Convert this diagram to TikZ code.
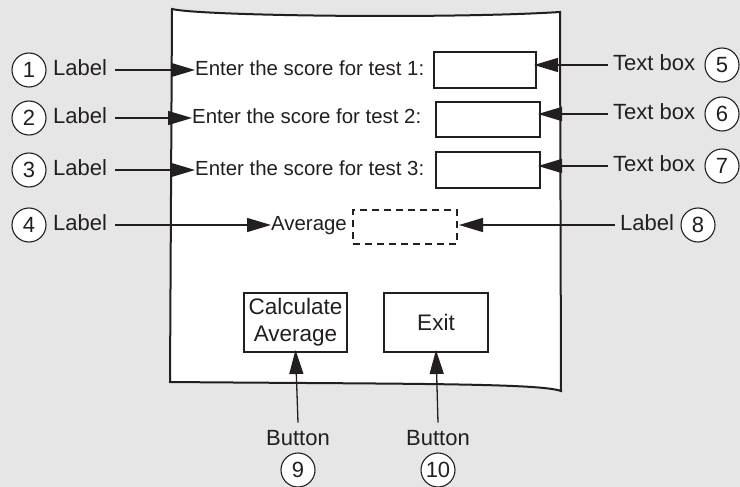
\documentclass[tikz,border=0pt]{standalone}
\usepackage{fontspec}
\setmainfont{Liberation Sans}
\usetikzlibrary{arrows.meta}
\definecolor{bg}{HTML}{E6E6E6}
\definecolor{ink}{HTML}{231F20}
\begin{document}
\begin{tikzpicture}[x=1pt,y=-1pt,
  txt/.style={font=\fontsize{20.4}{24}\selectfont, inner sep=0pt, text height=15pt, text depth=4pt, text=ink},
  side/.style={font=\fontsize{22}{26}\selectfont, inner sep=0pt, text height=16pt, text depth=4.5pt, text=ink},
  btxt/.style={font=\fontsize{22.5}{27}\selectfont, inner sep=0pt, text=ink, align=center},
  num/.style={circle, draw=ink, line width=1.1pt, minimum size=34pt, inner sep=0pt, fill=white, font=\fontsize{22}{24}\selectfont, text=ink},
  arr/.style={-{Triangle[length=24pt,width=14pt]}, line width=1.3pt, draw=ink},
  boxx/.style={draw=ink, line width=2pt, fill=white, inner sep=0pt},
  form/.style={draw=ink, line width=2pt, fill=white}]
\fill[bg] (0,0) rectangle (740,487);
\useasboundingbox (0,0) rectangle (740,487);
% the form
\path[form] (172,9) .. controls (200,16) and (450,19) .. (560,12)
  -- (561,391) .. controls (540,383) and (400,384) .. (170,382) -- cycle;
% left side
\node[num] (c1) at (29,70) {1};
\node[side, anchor=west] (l1) at (53,70) {Label};
\node[num] (c2) at (29,118) {2};
\node[side, anchor=west] (l2) at (53,118) {Label};
\node[num] (c3) at (29,170) {3};
\node[side, anchor=west] (l3) at (53,170) {Label};
\node[num] (c4) at (29,225) {4};
\node[side, anchor=west] (l4) at (53,225) {Label};
% prompts
\node[txt, anchor=west] (e1) at (195,70) {Enter the score for test 1:};
\node[txt, anchor=west] (e2) at (192,118) {Enter the score for test 2:};
\node[txt, anchor=west] (e3) at (195,170) {Enter the score for test 3:};
\node[txt, anchor=west] (avg) at (271,225) {Average};
% text boxes
\node[boxx, minimum width=102pt, minimum height=36pt] (b5) at (485,70) {};
\node[boxx, minimum width=104pt, minimum height=35pt] (b6) at (488,119.5) {};
\node[boxx, minimum width=104pt, minimum height=36pt] (b7) at (488,170) {};
\node[draw=ink, line width=2pt, dash pattern=on 7pt off 5pt, fill=white, minimum width=104pt, minimum height=34pt] (d8) at (405,227) {};
% buttons
\node[boxx, minimum width=103pt, minimum height=59pt, btxt] (calc) at (295.5,322.5) {Calculate\\Average};
\node[boxx, minimum width=104pt, minimum height=59pt, btxt] (exit) at (436,322.5) {Exit};
% right side
\node[side, anchor=west] (t5) at (613,65) {Text box};
\node[num] (c5) at (722,65) {5};
\node[side, anchor=west] (t6) at (613,114) {Text box};
\node[num] (c6) at (722,114) {6};
\node[side, anchor=west] (t7) at (613,166) {Text box};
\node[num] (c7) at (722,166) {7};
\node[side, anchor=west] (l8) at (620,225) {Label};
\node[num] (c8) at (698,225) {8};
% bottom
\node[side] (u9) at (298,440) {Button};
\node[num] (c9) at (298,470) {9};
\node[side] (u10) at (438,440) {Button};
\node[num] (c10) at (438,470) {10};
% connectors
\draw[arr] ([xshift=8pt]l1.east) -- (e1.west);
\draw[arr] ([xshift=8pt]l2.east) -- (e2.west);
\draw[arr] ([xshift=8pt]l3.east) -- (e3.west);
\draw[arr] ([xshift=8pt]l4.east) -- (avg.west);
\draw[arr] ([xshift=-5pt]t5.west) -- ([xshift=-3pt]t5.west -| b5.east);
\draw[arr] ([xshift=-5pt]t6.west) -- ([xshift=-3pt]t6.west -| b6.east);
\draw[arr] ([xshift=-5pt]t7.west) -- ([xshift=-3pt]t7.west -| b7.east);
\draw[arr] ([xshift=-5pt]l8.west) -- ([xshift=1pt]l8.west -| d8.east);
\draw[arr] ([yshift=7pt]u9.north) -- ([yshift=3pt]calc.south);
\draw[arr] ([yshift=7pt]u10.north) -- ([yshift=3pt]exit.south);
\end{tikzpicture}
\end{document}
